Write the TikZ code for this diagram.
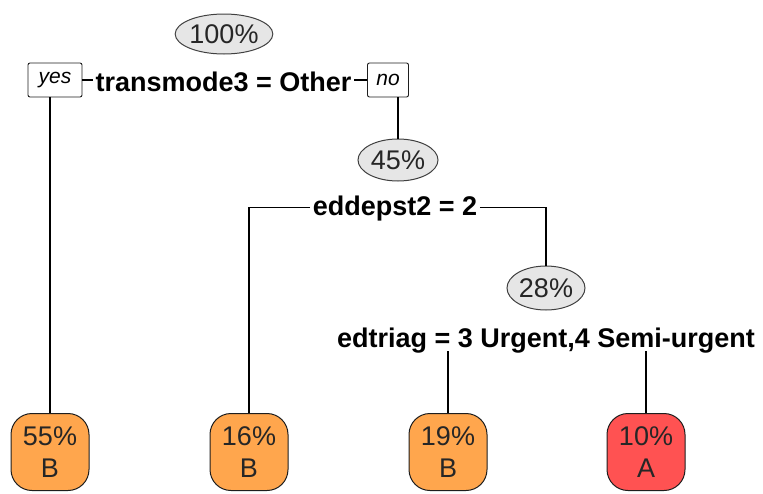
\documentclass[tikz,border=0pt]{standalone}
\usepackage{fontspec}
\setmainfont{Liberation Sans}
\usetikzlibrary{shapes.geometric}
\definecolor{leafB}{RGB}{255,166,77}
\definecolor{leafA}{RGB}{255,82,82}
\definecolor{pctfill}{RGB}{230,230,230}
\definecolor{edge}{RGB}{30,30,30}
\tikzset{
  pct/.style={ellipse, draw=edge!85, line width=1pt, fill=pctfill, inner sep=0pt,
    font=\fontsize{27}{30}\selectfont, text height=19.5pt, text depth=0pt, text=black!85},
  splitlabel/.style={inner xsep=2.5pt, inner ysep=0pt, anchor=base,
    font=\fontsize{27}{30}\selectfont\bfseries, text height=19.5pt, text depth=4pt},
  yesno/.style={draw=edge, line width=0.9pt, rounded corners=2pt, fill=white, inner sep=0pt,
    minimum height=34pt, font=\fontsize{21}{24}\selectfont\itshape},
  leafbox/.style={draw=edge, line width=1pt, rounded corners=21pt, inner sep=0pt,
    minimum width=78pt, minimum height=77pt, align=center, text=black!85,
    font=\fontsize{27}{32}\selectfont},
  conn/.style={draw=black, line width=1.1pt}
}
\begin{document}
\begin{tikzpicture}[x=1pt,y=-1pt]
\useasboundingbox (0,0) rectangle (763,493);
% split 1
\node[pct, minimum width=93pt, minimum height=40pt] (p1) at (224,34) {100\%};
\node[splitlabel] (s1) at (223.5,91) {transmode3 = Other};
\node[yesno, minimum width=54pt] (yes) at (55,80) {yes};
\node[yesno, minimum width=41pt] (no) at (388,80) {no};
% split 2
\node[pct, minimum width=80pt, minimum height=42pt] (p2) at (398,160) {45\%};
\node[splitlabel] (s2) at (395,215) {eddepst2 = 2};
% split 3
\node[pct, minimum width=78pt, minimum height=44pt] (p3) at (546,288) {28\%};
\node[splitlabel] (s3) at (546,347) {edtriag = 3 Urgent,4 Semi-urgent};
% leaves
\node[leafbox, fill=leafB] (l1) at (50,452) {55\%\\B};
\node[leafbox, fill=leafB] (l2) at (249,452) {16\%\\B};
\node[leafbox, fill=leafB] (l3) at (448,452) {19\%\\B};
\node[leafbox, fill=leafA] (l4) at (646,452) {10\%\\A};
% connectors
\draw[conn] (yes.east) -- (yes.east -| s1.west);
\draw[conn] (s1.east |- no.west) -- (no.west);
\draw[conn] (yes.south -| l1.north) -- (l1.north);
\draw[conn] (no.south -| p2.north) -- (p2.north);
\draw[conn] (s2.west) -- (s2.west -| l2.north) -- (l2.north);
\draw[conn] (s2.east) -- (s2.east -| p3.north) -- (p3.north);
\draw[conn] (s3.south -| l3.north) -- (l3.north);
\draw[conn] (s3.south -| l4.north) -- (l4.north);
\end{tikzpicture}
\end{document}
